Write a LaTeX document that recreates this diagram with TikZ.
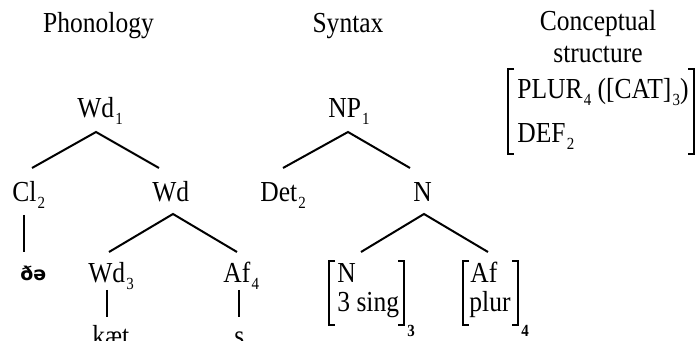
\documentclass[tikz,border=0pt]{standalone}
\usepackage{fontspec}
\setmainfont{Liberation Serif}[FakeStretch=0.88]
\newfontfamily\ipafont{DejaVu Sans}
\newcommand\sbs[1]{\kern0.6pt\raisebox{-3.2pt}{\fontsize{8.5}{9}\selectfont #1}}
\newcommand\sbb[1]{\raisebox{-3.2pt}{\fontsize{8.5}{9}\selectfont\bfseries #1}}
\tikzset{
  lbl/.style={font=\fontsize{14.5}{17}\selectfont, inner sep=0pt, anchor=base west},
  ttl/.style={font=\fontsize{14.5}{17}\selectfont, inner sep=0pt, anchor=base},
  edge/.style={line width=1pt, line cap=butt},
  brk/.style={line width=1pt, line cap=butt, line join=miter}
}
\newcommand\lbrk[3]{\draw[brk] (#1+6,#2) -- (#1,#2) -- (#1,#3) -- (#1+6,#3);}
\newcommand\rbrk[3]{\draw[brk] (#1-6,#2) -- (#1,#2) -- (#1,#3) -- (#1-6,#3);}
\begin{document}
\begin{tikzpicture}[x=0.5pt,y=-0.5pt]
\useasboundingbox (0,0) rectangle (698,341);
\clip (0,0) rectangle (698,341);
% titles
\node[ttl] (tph) at (98.5,33) {Phonology};
\node[ttl] (tsy) at (348,33) {Syntax};
\node[ttl] (tco1) at (598,31) {Conceptual};
\node[ttl] (tco2) at (598,63) {structure};
% phonology tree
\node[lbl] (wdA) at (77,118) {Wd\sbs{1}};
\node[lbl] (cl) at (12,202) {Cl\sbs{2}};
\node[lbl] (wdB) at (152,202) {Wd};
\node[lbl, font=\ipafont\bfseries\fontsize{9.5}{12}\selectfont] (dh) at (20,281) {ðə};
\node[lbl] (wdC) at (88,283) {Wd\sbs{3}};
\node[lbl] (af) at (223,283) {Af\sbs{4}};
\node[lbl] (kaet) at (92,346) {kæt};
\node[lbl] (s) at (234,346) {s};
\coordinate (wdA-d) at (96,132);
\coordinate (cl-u) at (32,168);
\coordinate (wdB-u) at (159,168);
\coordinate (wdB-d) at (173,214);
\coordinate (wdC-u) at (109,252);
\coordinate (af-u) at (237,252);
\coordinate (cl-d) at (24,215);
\coordinate (dh-u) at (24,252);
\coordinate (wdC-d) at (107,290);
\coordinate (kaet-u) at (107,317);
\coordinate (af-d) at (239,290);
\coordinate (s-u) at (239,317);
\draw[edge] (cl-u) -- (wdA-d) -- (wdB-u);
\draw[edge] (wdC-u) -- (wdB-d) -- (af-u);
\draw[edge] (cl-d) -- (dh-u);
\draw[edge] (wdC-d) -- (kaet-u);
\draw[edge] (af-d) -- (s-u);
% syntax tree
\node[lbl] (np) at (328,118) {NP\sbs{1}};
\node[lbl] (det) at (260,202) {Det\sbs{2}};
\node[lbl] (nn) at (413,202) {N};
\node[lbl] (brN1) at (337,283) {N};
\node[lbl] (brN2) at (337,312) {3 sing};
\node[lbl] (brA1) at (470,283) {Af};
\node[lbl] (brA2) at (469,312) {plur};
\node[lbl] (sb3) at (407,330) {\sbb{3}};
\node[lbl] (sb4) at (521,330) {\sbb{4}};
\coordinate (np-d) at (348,132);
\coordinate (det-u) at (283,168);
\coordinate (nn-u) at (410,168);
\coordinate (nn-d) at (424,214);
\coordinate (brN-u) at (361,252);
\coordinate (brA-u) at (488,252);
\draw[edge] (det-u) -- (np-d) -- (nn-u);
\draw[edge] (brN-u) -- (nn-d) -- (brA-u);
\lbrk{329}{261}{325}
\rbrk{404}{261}{325}
\lbrk{463}{261}{325}
\rbrk{518}{261}{325}
% conceptual structure
\node[lbl] (cpl) at (517,99) {PLUR\sbs{4} ([CAT]\sbs{3})};
\node[lbl] (cdef) at (517,143) {DEF\sbs{2}};
\node[lbl] (cs1) at (697,158) {\sbs{1}};
\lbrk{508}{69}{154}
\rbrk{694}{69}{154}
\end{tikzpicture}
\end{document}
